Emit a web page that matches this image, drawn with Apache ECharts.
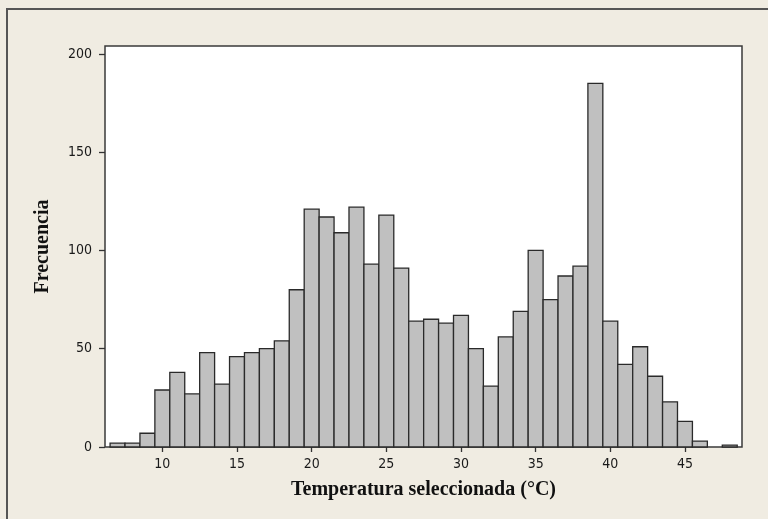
<!DOCTYPE html>
<html>
<head>
<meta charset="utf-8">
<script src="https://cdn.jsdelivr.net/npm/echarts@6/dist/echarts.min.js"></script>
<style>
html,body{margin:0;padding:0;background:#F0ECE2;}
#c{width:768px;height:519px;}
</style>
</head>
<body>
<div id="c"></div>
<script>
// Bin centres (°C), width 1
const binCenters = [7,8,9,10,11,12,13,14,15,16,17,18,19,20,21,22,23,24,25,26,27,28,29,30,31,32,33,34,35,36,37,38,39,40,41,42,43,44,45,46,47,48];
const frequencies = [2,2,7,29,38,27,48,32,46,48,50,54,80,121,117,109,122,93,118,91,64,65,63,67,50,31,56,69,100,75,87,92,185,64,42,51,36,23,13,3,0,1];
const xTickValues = [10,15,20,25,30,35,40,45];
const yTickValues = [0,50,100,150,200];

const data = binCenters.map((c,i)=>[c, frequencies[i]]).filter(d=>d[1]>0);

const chart = echarts.init(document.getElementById('c'), null, {renderer:'canvas'});
const tickFont = {fontFamily:'"DejaVu Sans Condensed","Liberation Sans Narrow","Liberation Sans",sans-serif', fontSize:14, color:'#1a1a1a'};
chart.setOption({
  backgroundColor:'#F0ECE2',
  animation:false,
  graphic:[{type:'rect', shape:{x:7, y:9, width:900, height:700}, style:{fill:'none', stroke:'#555', lineWidth:2}, silent:true, z:-10}],
  grid:{left:105, right:26, top:46, bottom:72, show:true, backgroundColor:'#ffffff', borderColor:'#3a3a3a', borderWidth:1.5},
  xAxis:{
    type:'value', min:6.16, max:48.82,
    name:'Temperatura seleccionada (°C)', nameLocation:'middle', nameGap:33,
    nameTextStyle:{fontFamily:'"Liberation Serif","Times New Roman",serif', fontWeight:'bold', fontSize:20, color:'#111'},
    axisLine:{show:false},
    splitLine:{show:false},
    axisTick:{show:true, length:5, customValues:xTickValues, lineStyle:{color:'#333', width:1.3}},
    axisLabel:{customValues:xTickValues, margin:10, ...tickFont}
  },
  yAxis:{
    type:'value', min:0, max:204,
    name:'Frecuencia', nameLocation:'middle', nameGap:52,
    nameTextStyle:{fontFamily:'"Liberation Serif","Times New Roman",serif', fontWeight:'bold', fontSize:20, color:'#111'},
    axisLine:{show:false},
    splitLine:{show:false},
    axisTick:{show:true, length:6, customValues:yTickValues, lineStyle:{color:'#333', width:1.3}},
    axisLabel:{customValues:yTickValues, margin:13, ...tickFont}
  },
  series:[{
    type:'custom',
    data:data,
    encode:{x:0, y:1},
    renderItem:function(params, api){
      const x = api.value(0), y = api.value(1);
      const p0 = api.coord([x-0.5, y]);
      const p1 = api.coord([x+0.5, 0]);
      return {type:'rect', shape:{x:p0[0], y:p0[1], width:p1[0]-p0[0], height:p1[1]-p0[1]},
        style:{fill:'#C0C0C0', stroke:'#2a2a2a', lineWidth:1.3}};
    }
  }]
});
</script>
</body>
</html>
